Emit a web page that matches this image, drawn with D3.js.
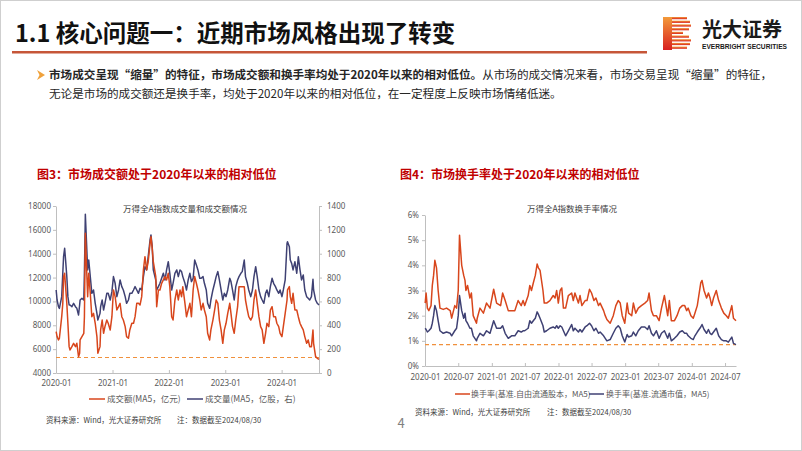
<!DOCTYPE html>
<html><head><meta charset="utf-8">
<script src="https://cdn.jsdelivr.net/npm/d3@7"></script>
<style>
body{margin:0;background:#fff;}
svg{display:block;font-family:"Noto Sans CJK SC","Noto Sans",sans-serif;}
</style>
</head><body>
<svg id="c" width="802" height="451"></svg>
<script>
// ---------- Data: chart 3 (turnover amount & volume, MA5) ----------
const dates1 = ["2020-01-02","2020-01-08","2020-01-17","2020-01-23","2020-02-07","2020-02-14","2020-02-19","2020-02-26","2020-03-03","2020-03-11","2020-03-18","2020-03-26","2020-04-01","2020-04-13","2020-04-24","2020-05-06","2020-05-15","2020-05-26","2020-06-02","2020-06-05","2020-06-17","2020-06-29","2020-07-03","2020-07-09","2020-07-16","2020-07-24","2020-07-31","2020-08-10","2020-08-20","2020-08-31","2020-09-11","2020-09-22","2020-09-28","2020-10-12","2020-10-16","2020-10-26","2020-11-04","2020-11-13","2020-11-25","2020-12-04","2020-12-17","2020-12-28",
"2021-01-07","2021-01-18","2021-01-29","2021-02-09","2021-02-19","2021-03-02","2021-03-12","2021-03-24","2021-04-02","2021-04-14","2021-04-23","2021-05-06","2021-05-17","2021-05-27","2021-06-07","2021-06-18","2021-06-28","2021-07-09","2021-07-20","2021-07-30","2021-08-10","2021-08-20","2021-09-01","2021-09-07","2021-09-15","2021-09-22","2021-10-08","2021-10-14","2021-10-25","2021-11-04","2021-11-15","2021-11-26","2021-12-07","2021-12-17","2021-12-28",
"2022-01-07","2022-01-19","2022-01-28","2022-02-09","2022-02-21","2022-03-03","2022-03-14","2022-03-24","2022-04-01","2022-04-15","2022-04-25","2022-05-06","2022-05-17","2022-05-27","2022-06-07","2022-06-17","2022-06-28","2022-07-08","2022-07-20","2022-07-29","2022-08-10","2022-08-19","2022-08-31","2022-09-09","2022-09-22","2022-09-30","2022-10-13","2022-10-24","2022-11-03","2022-11-14","2022-11-24","2022-12-05","2022-12-16","2022-12-26",
"2023-01-06","2023-01-17","2023-01-30","2023-02-07","2023-02-17","2023-02-28","2023-03-10","2023-03-22","2023-03-31","2023-04-12","2023-04-21","2023-05-04","2023-05-12","2023-05-24","2023-06-02","2023-06-15","2023-06-26","2023-07-06","2023-07-17","2023-07-27","2023-08-07","2023-08-18","2023-08-28","2023-09-08","2023-09-19","2023-09-28","2023-10-10","2023-10-20","2023-10-31","2023-11-10","2023-11-22","2023-12-01","2023-12-13","2023-12-22",
"2024-01-03","2024-01-12","2024-01-24","2024-02-05","2024-02-08","2024-02-20","2024-02-26","2024-03-06","2024-03-15","2024-03-27","2024-04-08","2024-04-18","2024-04-29","2024-05-09","2024-05-20","2024-05-30","2024-06-11","2024-06-21","2024-07-01","2024-07-12","2024-07-22","2024-07-26","2024-08-08","2024-08-19","2024-08-30"];
// 成交额 (MA5, 亿元) – left axis
const amount = [7470,7050,6770,6910,8720,9840,12080,12360,11240,9840,8170,6210,5930,6210,6490,6210,6490,5370,5650,6770,7050,7330,8720,15710,13190,10400,12360,10680,8720,9000,8170,7050,5650,6210,7610,8440,7330,7890,8440,8170,7610,8720,
10960,10400,9280,9560,9840,8720,8440,7890,7050,6910,7610,8170,8170,8720,9840,9840,9700,10400,12640,13750,12640,13330,14870,15430,14450,13330,12080,9560,10960,10960,11520,11800,12080,11800,12360,
11240,8720,8440,10120,10960,10120,10960,10400,11240,9840,8720,9280,9840,8720,10960,12080,11520,10960,10120,9280,9840,9280,8720,7330,6770,7610,8440,9280,10120,9840,8440,7610,6490,7610,
8170,9000,9840,9000,7890,7330,8440,9560,11240,11240,11240,11240,10120,9280,8720,8440,8720,10120,10960,9840,8720,7890,7610,6490,7330,8170,7890,9280,9560,8720,8720,8170,7890,7330,
7050,7890,9000,10120,10960,11240,10400,9840,10680,9280,9280,8720,8170,7890,7610,7050,6490,6770,6210,6210,7610,6490,5370,5230,5150];
// 成交量 (MA5, 亿股) – right axis
const volume = [696,612,556,542,640,836,975,1045,947,808,640,570,570,556,584,556,542,486,570,612,626,612,836,1330,1115,864,947,808,668,696,584,500,444,500,556,612,528,584,668,668,612,682,
808,752,640,696,780,724,696,640,584,612,668,668,696,724,696,668,710,696,808,891,864,975,1115,1157,1059,864,780,696,724,752,794,836,780,864,933,
836,696,752,836,864,808,864,850,808,752,696,780,836,766,794,947,905,864,794,794,808,752,696,584,542,612,696,752,808,850,780,696,612,668,
640,696,794,766,696,612,724,780,808,836,850,947,808,752,696,640,696,808,891,808,696,640,612,584,668,696,640,724,794,752,724,696,668,696,
640,696,780,1087,1101,1059,947,919,864,933,836,975,864,780,822,696,640,626,612,640,785,696,612,584,570];
const amountLevel = 5300;
const xTicks1 = ["2020-01","2021-01","2022-01","2023-01","2024-01"];
const yTicksLeft = [4000,6000,8000,10000,12000,14000,16000,18000];
const yTicksRight = [0,200,400,600,800,1000,1200,1400];

// ---------- Data: chart 4 (turnover rate, MA5, %) ----------
const dates2 = ["2020-01-02","2020-01-07","2020-01-14","2020-01-22","2020-02-03","2020-02-10","2020-02-17","2020-02-24","2020-03-04","2020-03-13","2020-03-23","2020-04-10","2020-04-28","2020-05-18","2020-05-26","2020-06-12","2020-06-22","2020-07-01","2020-07-08","2020-07-20","2020-07-31","2020-08-07","2020-08-12","2020-08-21","2020-09-03","2020-09-11","2020-09-21","2020-10-09","2020-10-13","2020-10-28","2020-11-16","2020-12-03","2020-12-22",
"2021-01-11","2021-01-27","2021-02-18","2021-03-01","2021-03-15","2021-04-01","2021-04-19","2021-05-07","2021-05-25","2021-06-11","2021-06-21","2021-06-30","2021-07-19","2021-07-28","2021-08-06","2021-08-16","2021-08-27","2021-09-06","2021-09-13","2021-09-22","2021-10-08","2021-10-15","2021-10-28","2021-11-15","2021-12-03","2021-12-13","2021-12-22","2021-12-31",
"2022-01-10","2022-01-19","2022-01-28","2022-02-09","2022-02-24","2022-03-14","2022-03-23","2022-04-01","2022-04-20","2022-04-29","2022-05-09","2022-05-27","2022-06-06","2022-06-20","2022-07-01","2022-07-14","2022-07-25","2022-08-08","2022-08-17","2022-09-05","2022-09-14","2022-09-23","2022-10-11","2022-10-28","2022-11-11","2022-11-24","2022-12-05","2022-12-16","2022-12-30",
"2023-01-12","2023-01-20","2023-02-06","2023-02-15","2023-02-28","2023-03-14","2023-03-31","2023-04-19","2023-05-04","2023-05-12","2023-05-25","2023-06-05","2023-06-21","2023-07-06","2023-07-19","2023-08-04","2023-08-22","2023-08-31","2023-09-11","2023-09-28","2023-10-12","2023-10-27","2023-11-10","2023-11-23","2023-12-04","2023-12-12","2023-12-27",
"2024-01-09","2024-01-18","2024-01-31","2024-02-19","2024-02-26","2024-03-08","2024-03-22","2024-04-01","2024-04-10","2024-04-19","2024-04-29","2024-05-14","2024-05-27","2024-06-11","2024-06-24","2024-07-08","2024-07-19","2024-08-07","2024-08-16","2024-08-30"];
// 换手率(基准.自由流通股本, MA5) %
const turnFree = [2.5,2.9,2.3,2.2,2.4,3.2,3.6,4.2,3.9,3.0,2.3,2.25,2.3,2.2,1.9,2.4,2.3,3.0,5.2,4.0,3.6,3.4,3.0,3.2,2.7,2.9,2.0,1.7,1.9,2.3,2.1,2.5,2.3,
3.05,2.5,2.4,2.9,2.6,2.2,2.2,2.2,2.6,2.4,2.6,2.4,2.8,3.2,3.0,3.3,3.6,4.05,3.9,3.8,3.0,2.5,2.5,2.6,2.8,2.7,3.0,2.5,
3.0,3.1,2.3,2.3,2.8,2.9,2.6,2.9,2.5,2.8,2.4,2.6,2.6,3.05,2.9,2.6,2.7,2.4,2.5,2.2,2.0,1.85,1.7,2.0,2.4,2.6,2.5,2.0,1.7,
2.5,2.1,2.0,2.5,2.1,2.3,2.4,2.5,2.6,2.9,2.2,2.0,2.0,1.8,2.3,2.8,2.0,2.6,1.8,1.8,2.0,2.3,2.4,2.4,2.2,2.3,2.0,
1.9,2.1,2.4,3.3,3.4,3.0,2.7,2.9,2.7,2.4,2.7,3.0,2.6,2.3,2.1,2.0,1.9,2.4,1.9,1.8];
// 换手率(基准.流通市值, MA5) %
const turnFloat = [1.5,1.45,1.35,1.4,1.5,1.7,2.0,2.4,2.2,1.8,1.4,1.3,1.35,1.3,1.2,1.4,1.5,2.0,2.8,2.2,1.9,2.1,1.8,1.7,1.5,1.5,1.2,1.0,1.1,1.3,1.2,1.4,1.3,
1.8,1.5,1.5,1.6,1.3,1.1,1.2,1.2,1.4,1.35,1.4,1.4,1.5,1.8,1.7,1.8,1.9,2.15,2.05,1.9,1.6,1.35,1.4,1.5,1.55,1.5,1.6,1.5,
1.6,1.55,1.4,1.2,1.4,1.65,1.4,1.5,1.35,1.45,1.35,1.55,1.6,1.7,1.6,1.4,1.5,1.3,1.35,1.2,1.1,1.0,1.05,1.3,1.5,1.6,1.5,1.2,0.95,
1.25,1.15,1.2,1.35,1.2,1.4,1.55,1.55,1.45,1.6,1.3,1.2,1.4,1.1,1.3,1.4,1.1,1.3,1.0,1.1,1.2,1.35,1.4,1.3,1.3,1.2,1.1,
1.05,1.2,1.35,1.55,1.65,1.45,1.3,1.45,1.3,1.25,1.35,1.5,1.2,1.05,1.0,1.0,0.95,1.15,0.9,0.85];
const turnLevel = 0.85;
const xTicks2 = ["2020-01","2020-07","2021-01","2021-07","2022-01","2022-07","2023-01","2023-07","2024-01","2024-07"];
const yTicks2 = [0,1,2,3,4,5,6];

// ---------- Text ----------
const pageTitle = "1.1 核心问题一：近期市场风格出现了转变";
const bulletBold = "市场成交呈现“缩量”的特征，市场成交额和换手率均处于2020年以来的相对低位。";
const bulletRest = "从市场的成交情况来看，市场交易呈现“缩量”的特征，";
const bulletLine2 = "无论是市场的成交额还是换手率，均处于2020年以来的相对低位，在一定程度上反映市场情绪低迷。";
const fig3Title = "图3：市场成交额处于2020年以来的相对低位";
const fig4Title = "图4：市场换手率处于2020年以来的相对低位";
const chart3Title = "万得全A指数成交量和成交额情况";
const chart4Title = "万得全A指数换手率情况";
const legend3 = ["成交额(MA5，亿元)","成交量(MA5，亿股，右)"];
const legend4 = ["换手率(基准.自由流通股本，MA5)","换手率(基准.流通市值，MA5)"];
const sourceText = "资料来源：Wind，光大证券研究所";
const noteText = "注：数据截至2024/08/30";

// ---------- Drawing ----------
const RED = "#d8461c", BLUE = "#3f4173", DASH = "#f0903c";
const AXIS = "#bfbfbf", LABEL = "#595959";
const svg = d3.select("#c");
const parse = d3.timeParse("%Y-%m-%d");
const parseM = d3.timeParse("%Y-%m");
const fmtM = d3.timeFormat("%Y-%m");

svg.append("rect").attr("x",0.5).attr("y",0.5).attr("width",801).attr("height",450)
  .attr("fill","#fff").attr("stroke","#cfcfcf");

// header
svg.append("text").attr("x",15).attr("y",42).attr("font-size",23.5).attr("font-weight","bold")
  .attr("fill","#111").text(pageTitle);
svg.append("rect").attr("x",12).attr("y",51).attr("width",635).attr("height",2.5).attr("fill","#c65638");

// logo
const grad = svg.append("defs").append("linearGradient").attr("id","lg").attr("x1",0).attr("y1",0).attr("x2",0).attr("y2",1);
grad.append("stop").attr("offset","0%").attr("stop-color","#f39a3a");
grad.append("stop").attr("offset","100%").attr("stop-color","#d8201f");
const logo = svg.append("g").attr("fill","url(#lg)");
logo.append("rect").attr("x",663).attr("y",17).attr("width",9).attr("height",33);
const stripes = [15,18,19,17,11,17,19,18,15];
stripes.forEach((w,i)=>{
  logo.append("rect").attr("x",672).attr("y",17+i*3.7).attr("width",w).attr("height",2.2);
});
svg.append("text").attr("x",702).attr("y",37).attr("font-size",20).attr("font-weight","bold")
  .attr("fill","#1a1a1a").text("光大证券");
svg.append("text").attr("x",702).attr("y",48.5).attr("font-size",6.6).attr("font-weight","bold")
  .attr("fill","#1a1a1a").attr("font-family","Liberation Sans, Arial, sans-serif")
  .attr("textLength",85).attr("lengthAdjust","spacingAndGlyphs").text("EVERBRIGHT SECURITIES");

// bullet
svg.append("path").attr("d","M37,70 L45,75 L37,80 L39.5,75 Z").attr("fill","#f0a23c");
const tl1 = svg.append("text").attr("x",49).attr("y",79).attr("font-size",11.6).attr("fill","#262626");
tl1.append("tspan").attr("font-weight","bold").text(bulletBold);
tl1.append("tspan").text(bulletRest);
svg.append("text").attr("x",49).attr("y",98).attr("font-size",11.6).attr("fill","#262626").text(bulletLine2);

// figure headers
svg.append("text").attr("x",37).attr("y",179).attr("font-size",12).attr("font-weight","bold")
  .attr("fill","#c00000").text(fig3Title);
svg.append("text").attr("x",400).attr("y",179).attr("font-size",12).attr("font-weight","bold")
  .attr("fill","#c00000").text(fig4Title);

function styleAxis(g){
  g.selectAll(".domain").attr("stroke",AXIS);
  g.selectAll(".tick line").attr("stroke",AXIS);
  g.selectAll("text").attr("fill",LABEL).attr("font-size",8)
    .attr("font-family","Noto Sans, DejaVu Sans, sans-serif");
}

// ---------- Chart 3 ----------
const x1 = d3.scaleTime().domain([parse("2020-01-01"), parse("2024-08-30")]).range([56,319]);
const yL = d3.scaleLinear().domain([4000,18000]).range([373,206]);
const yR = d3.scaleLinear().domain([0,1400]).range([373,206]);
const d1 = dates1.map((d,i)=>({date:parse(d), a:amount[i], v:volume[i]}));

svg.append("g").attr("transform","translate(56,0)")
  .call(d3.axisLeft(yL).tickValues(yTicksLeft).tickSize(3).tickSizeOuter(0).tickPadding(2).tickFormat(d3.format("d")))
  .call(styleAxis);
svg.append("g").attr("transform","translate(319,0)")
  .call(d3.axisRight(yR).tickValues(yTicksRight).tickSize(3).tickSizeOuter(0).tickPadding(5).tickFormat(d3.format("d")))
  .call(styleAxis);
svg.append("g").attr("transform","translate(0,373)")
  .call(d3.axisBottom(x1).tickValues(xTicks1.map(parseM)).tickSize(-3).tickSizeOuter(0).tickPadding(7).tickFormat(fmtM))
  .call(styleAxis);

svg.append("line").attr("x1",x1.range()[0]).attr("x2",x1.range()[1])
  .attr("y1",yL(amountLevel)).attr("y2",yL(amountLevel))
  .attr("stroke",DASH).attr("stroke-width",1.2).attr("stroke-dasharray","4,3");
svg.append("path").datum(d1).attr("fill","none").attr("stroke",BLUE).attr("stroke-width",1.5)
  .attr("stroke-linejoin","round").attr("d",d3.line().x(d=>x1(d.date)).y(d=>yR(d.v)));
svg.append("path").datum(d1).attr("fill","none").attr("stroke",RED).attr("stroke-width",1.5)
  .attr("stroke-linejoin","round").attr("d",d3.line().x(d=>x1(d.date)).y(d=>yL(d.a)));

svg.append("text").attr("x",185).attr("y",212).attr("text-anchor","middle").attr("font-size",8.5)
  .attr("fill","#404040").text(chart3Title);

// legend 3
[[89,107,RED,legend3[0]],[187,205,BLUE,legend3[1]]].forEach(([lx,tx,c,t])=>{
  svg.append("line").attr("x1",lx).attr("x2",lx+16).attr("y1",399).attr("y2",399).attr("stroke",c).attr("stroke-width",1.5);
  svg.append("text").attr("x",tx).attr("y",402).attr("font-size",8.5).attr("fill",LABEL).text(t);
});
svg.append("text").attr("x",46).attr("y",423).attr("font-size",7.5).attr("fill","#404040").text(sourceText);
svg.append("text").attr("x",177).attr("y",423).attr("font-size",7.5).attr("fill","#404040").text(noteText);

// ---------- Chart 4 ----------
const x2 = d3.scaleTime().domain([parse("2020-01-01"), parse("2024-08-30")]).range([425,736]);
const y2 = d3.scaleLinear().domain([0,6]).range([366,215]);
const d2 = dates2.map((d,i)=>({date:parse(d), f:turnFree[i], m:turnFloat[i]}));

svg.append("g").attr("transform","translate(425,0)")
  .call(d3.axisLeft(y2).tickValues(yTicks2).tickSize(3).tickSizeOuter(0).tickPadding(3).tickFormat(d=>d+"%"))
  .call(styleAxis);
svg.append("g").attr("transform","translate(0,366)")
  .call(d3.axisBottom(x2).tickValues(xTicks2.map(parseM)).tickSize(-3).tickSizeOuter(0).tickPadding(8).tickFormat(fmtM))
  .call(styleAxis);

svg.append("line").attr("x1",x2.range()[0]).attr("x2",x2.range()[1])
  .attr("y1",y2(turnLevel)).attr("y2",y2(turnLevel))
  .attr("stroke",DASH).attr("stroke-width",1.2).attr("stroke-dasharray","4,3");
svg.append("path").datum(d2).attr("fill","none").attr("stroke",BLUE).attr("stroke-width",1.5)
  .attr("stroke-linejoin","round").attr("d",d3.line().x(d=>x2(d.date)).y(d=>y2(d.m)));
svg.append("path").datum(d2).attr("fill","none").attr("stroke",RED).attr("stroke-width",1.5)
  .attr("stroke-linejoin","round").attr("d",d3.line().x(d=>x2(d.date)).y(d=>y2(d.f)));

svg.append("text").attr("x",572).attr("y",212).attr("text-anchor","middle").attr("font-size",8.5)
  .attr("fill","#404040").text(chart4Title);

[[455,471,RED,legend4[0]],[589,606,BLUE,legend4[1]]].forEach(([lx,tx,c,t])=>{
  svg.append("line").attr("x1",lx).attr("x2",lx+15).attr("y1",394).attr("y2",394).attr("stroke",c).attr("stroke-width",1.5);
  svg.append("text").attr("x",tx).attr("y",397).attr("font-size",8).attr("fill",LABEL).text(t);
});
svg.append("text").attr("x",415).attr("y",415).attr("font-size",7.5).attr("fill","#404040").text(sourceText);
svg.append("text").attr("x",547).attr("y",415).attr("font-size",7.5).attr("fill","#404040").text(noteText);

// page number
svg.append("text").attr("x",401).attr("y",428).attr("text-anchor","middle").attr("font-size",13)
  .attr("fill","#808080").text("4");
</script>
</body></html>
